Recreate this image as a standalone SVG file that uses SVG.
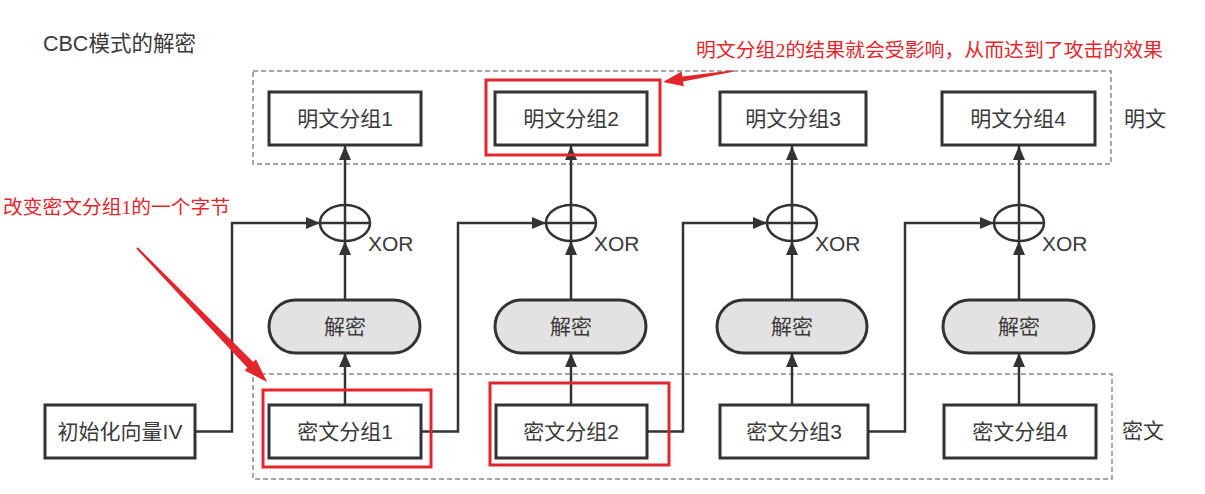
<svg xmlns="http://www.w3.org/2000/svg" width="1205" height="494" viewBox="0 0 1205 494">
<defs>
<style>
.t{font-family:"Liberation Sans","Noto Sans CJK SC",sans-serif;fill:#3a3a3a;}
.n{font-size:21px;text-anchor:middle;dominant-baseline:central;}
.box{fill:#fff;stroke:#333;stroke-width:3;}
.dec{fill:#e2e2e2;stroke:#333;stroke-width:3;}
.xor{fill:none;stroke:#333;stroke-width:2.5;}
.grp{fill:none;stroke:#8a8a8a;stroke-width:1.5;stroke-dasharray:5 3;}
.ln{fill:none;stroke:#333;stroke-width:2.5;marker-end:url(#ah);}
.red{fill:none;stroke:#e3262d;stroke-width:3;}
.rt{font-family:"Liberation Serif","Noto Sans CJK SC",serif;fill:#e3262d;font-size:19px;}
</style>
<marker id="ah" viewBox="0 0 14 12" refX="14" refY="6" markerWidth="14" markerHeight="12" markerUnits="userSpaceOnUse" orient="auto"><path d="M0,0 L14,6 L0,12 z" fill="#333"/></marker>
</defs>
<rect width="1205" height="494" fill="#fff"/>
<text class="t" x="43" y="51" font-size="21.5">CBC模式的解密</text>

<g id="groups">
<rect class="grp" x="253" y="71" width="858" height="93"/>
<rect class="grp" x="253" y="374" width="859" height="105"/>
<text class="t" x="1124" y="118" font-size="21" dominant-baseline="central">明文</text>
<text class="t" x="1122" y="430" font-size="21" dominant-baseline="central">密文</text>
</g>

<g id="connectors">
<line class="ln" x1="345" y1="205" x2="345" y2="146"/>
<line class="ln" x1="571" y1="205" x2="571" y2="146"/>
<line class="ln" x1="792" y1="205" x2="792" y2="146"/>
<line class="ln" x1="1019" y1="205" x2="1019" y2="146"/>
<line class="ln" x1="345" y1="300" x2="345" y2="241"/>
<line class="ln" x1="571" y1="300" x2="571" y2="241"/>
<line class="ln" x1="792" y1="300" x2="792" y2="241"/>
<line class="ln" x1="1019" y1="300" x2="1019" y2="241"/>
<line class="ln" x1="345" y1="405" x2="345" y2="353"/>
<line class="ln" x1="571" y1="405" x2="571" y2="353"/>
<line class="ln" x1="792" y1="405" x2="792" y2="353"/>
<line class="ln" x1="1019" y1="405" x2="1019" y2="353"/>
<path class="ln" d="M195,431.5 H232 V223 H320"/>
<path class="ln" d="M421,431.5 H458 V223 H546"/>
<path class="ln" d="M647,431.5 H683 V223 H767"/>
<path class="ln" d="M868,431.5 H905 V223 H994"/>
</g>

<g id="p1"><rect class="box" x="269" y="92" width="152" height="53"/><text class="t n" x="345" y="118.5">明文分组1</text></g>
<g id="p2"><rect class="box" x="495" y="92" width="152" height="53"/><text class="t n" x="571" y="118.5">明文分组2</text></g>
<g id="p3"><rect class="box" x="720" y="92" width="146" height="53"/><text class="t n" x="793" y="118.5">明文分组3</text></g>
<g id="p4"><rect class="box" x="942" y="92" width="153" height="53"/><text class="t n" x="1018" y="118.5">明文分组4</text></g>

<g id="x1"><ellipse class="xor" cx="345" cy="223" rx="25" ry="18"/><path class="xor" d="M320,223 H370 M345,205 V241"/><text class="t" x="368" y="251" font-size="21">XOR</text></g>
<g id="x2"><ellipse class="xor" cx="571" cy="223" rx="25" ry="18"/><path class="xor" d="M546,223 H596 M571,205 V241"/><text class="t" x="594" y="251" font-size="21">XOR</text></g>
<g id="x3"><ellipse class="xor" cx="792" cy="223" rx="25" ry="18"/><path class="xor" d="M767,223 H817 M792,205 V241"/><text class="t" x="815" y="251" font-size="21">XOR</text></g>
<g id="x4"><ellipse class="xor" cx="1019" cy="223" rx="25" ry="18"/><path class="xor" d="M994,223 H1044 M1019,205 V241"/><text class="t" x="1042" y="251" font-size="21">XOR</text></g>

<g id="d1"><rect class="dec" x="269" y="300" width="151" height="53" rx="26.5"/><text class="t n" x="345" y="326.5">解密</text></g>
<g id="d2"><rect class="dec" x="495" y="300" width="151" height="53" rx="26.5"/><text class="t n" x="571" y="326.5">解密</text></g>
<g id="d3"><rect class="dec" x="717" y="300" width="150" height="53" rx="26.5"/><text class="t n" x="792" y="326.5">解密</text></g>
<g id="d4"><rect class="dec" x="943" y="300" width="151" height="53" rx="26.5"/><text class="t n" x="1019" y="326.5">解密</text></g>

<g id="iv"><rect class="box" x="45" y="405" width="150" height="53"/><text class="t n" x="120" y="431.5">初始化向量IV</text></g>
<g id="c1"><rect class="box" x="269" y="405" width="152" height="53"/><text class="t n" x="345" y="431.5">密文分组1</text></g>
<g id="c2"><rect class="box" x="496" y="405" width="151" height="53"/><text class="t n" x="571" y="431.5">密文分组2</text></g>
<g id="c3"><rect class="box" x="720" y="405" width="148" height="53"/><text class="t n" x="794" y="431.5">密文分组3</text></g>
<g id="c4"><rect class="box" x="944" y="405" width="152" height="53"/><text class="t n" x="1020" y="431.5">密文分组4</text></g>

<g id="annotations">
<rect class="red" x="486" y="80" width="174" height="75"/>
<rect class="red" x="263" y="390" width="168" height="77"/>
<rect class="red" x="490" y="383" width="179" height="82"/>
<text class="rt" x="696" y="57" textLength="467" lengthAdjust="spacingAndGlyphs">明文分组2的结果就会受影响，从而达到了攻击的效果</text>
<text class="rt" x="3" y="214" textLength="227" lengthAdjust="spacingAndGlyphs">改变密文分组1的一个字节</text>
<polygon fill="#e3262d" points="732.9,70.3 682.4,76.4 681.6,71.5 663,82 683.8,86.3 683.0,81.4 733.1,71.7"/>
<polygon fill="#e3262d" points="137.7,247.3 253.2,361.9 256.0,359.2 267,382 244.6,370.4 247.4,367.7 136.3,248.7"/>
</g>
</svg>
